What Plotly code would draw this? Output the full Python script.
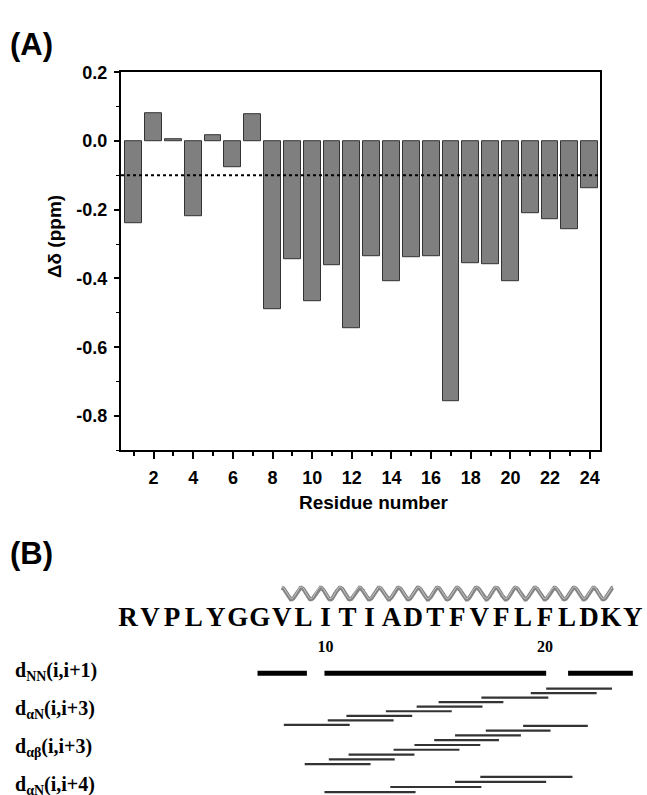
import math
import plotly.graph_objects as go

# ---------------- data ----------------
residues = list(range(1, 25))
delta_ppm = [-0.24, 0.08, 0.005, -0.22, 0.018, -0.075, 0.078, -0.49,
             -0.345, -0.465, -0.362, -0.544, -0.335, -0.409, -0.337, -0.335,
             -0.758, -0.355, -0.358, -0.409, -0.209, -0.229, -0.258, -0.137]
threshold_ppm = -0.1

xtick_vals = list(range(2, 25, 2))
ytick_vals = [0.2, 0.0, -0.2, -0.4, -0.6, -0.8]
ytick_text = ["0.2", "0.0", "-0.2", "-0.4", "-0.6", "-0.8"]

sequence = list("RVPLYGGVLITIADTFVFLFLDKY")
seq_numbers = [10, 20]

helix_start, helix_end, helix_waves = 8.0, 23.1, 17

# NOE connectivities (residue start / end), listed from bottom row to top row
dNN_start = [6.9, 9.95, 21.05]
dNN_end = [9.15, 20.05, 24.0]
daN3_start = [8.1, 10.1, 10.95, 12.75, 14.15, 15.15, 17.1, 19.35, 20.05]
daN3_end = [11.1, 13.1, 13.95, 15.75, 17.15, 18.1, 20.15, 22.35, 23.05]
dab3_start = [9.05, 10.15, 11.05, 13.1, 14.05, 14.95, 15.9, 17.3, 19.0]
dab3_end = [12.05, 13.15, 14.05, 16.1, 17.05, 17.9, 18.9, 20.25, 21.95]
daN4_start = [9.95, 12.95, 15.9, 17.05]
daN4_end = [14.1, 17.1, 20.05, 21.25]

noe_labels = ["d<sub>NN</sub>(i,i+1)", "d<sub>αN</sub>(i,i+3)",
              "d<sub>αβ</sub>(i,i+3)", "d<sub>αN</sub>(i,i+4)"]

# ---------------- layout helpers ----------------
W, H = 647, 795
def px(x):
    return x / W
def py(y):
    return 1 - y / H

SANS = "Liberation Sans, Arial, sans-serif"
SERIF = "Liberation Serif, Times New Roman, serif"

fig = go.Figure()

# Panel A bars
fig.add_trace(go.Bar(
    x=residues, y=delta_ppm, width=0.85,
    marker=dict(color="#7f7f7f", line=dict(color="#333333", width=1)),
    xaxis="x", yaxis="y", showlegend=False))

# Panel B: segments
def seg_trace(starts, ends, y_bottom, step, width, color):
    xs, ys = [], []
    for k, (s, e) in enumerate(zip(starts, ends)):
        yy = y_bottom - k * step
        xs += [s, e, None]
        ys += [yy, yy, None]
    return go.Scatter(x=xs, y=ys, mode="lines", line=dict(color=color, width=width),
                      xaxis="x2", yaxis="y2", showlegend=False, hoverinfo="skip")

fig.add_trace(seg_trace(dNN_start, dNN_end, 671.7, 0, 5, "#000000"))
fig.add_trace(seg_trace(daN3_start, daN3_end, 724.0, 4.6, 2.2, "#333333"))
fig.add_trace(seg_trace(dab3_start, dab3_end, 763.7, 4.84, 2.2, "#333333"))
fig.add_trace(seg_trace(daN4_start, daN4_end, 792.0, 5.1, 2.2, "#333333"))

# helix glyph
n_pts = 400
hx = [helix_start + (helix_end - helix_start) * i / n_pts for i in range(n_pts + 1)]
period = (helix_end - helix_start) / helix_waves
hy = [591 - 6 * math.cos(2 * math.pi * (v - helix_start) / period) for v in hx]
fig.add_trace(go.Scatter(x=hx, y=hy, mode="lines", line=dict(color="#858585", width=4),
                         xaxis="x2", yaxis="y2", showlegend=False, hoverinfo="skip"))
fig.add_trace(go.Scatter(x=hx, y=[v - 0.8 for v in hy], mode="lines",
                         line=dict(color="#c4c4c4", width=1),
                         xaxis="x2", yaxis="y2", showlegend=False, hoverinfo="skip"))

# sequence letters
fig.add_trace(go.Scatter(
    x=residues, y=[617] * len(residues), mode="text", text=sequence,
    textfont=dict(family=SERIF, size=27, color="black", weight="bold"),
    xaxis="x2", yaxis="y2", showlegend=False, hoverinfo="skip"))
fig.add_trace(go.Scatter(
    x=seq_numbers, y=[646] * len(seq_numbers), mode="text",
    text=[str(n) for n in seq_numbers],
    textfont=dict(family=SERIF, size=16, color="black", weight="bold"),
    xaxis="x2", yaxis="y2", showlegend=False, hoverinfo="skip"))

axis_font = dict(family=SANS, size=18, color="black", weight="bold")

# residue -> px mapping in panel B: res1 at 128px, 21.95 px per residue
b_res0_px, b_step = 128.0, 21.95
x2_range = [1 + (0 - b_res0_px) / b_step, 1 + (W - b_res0_px) / b_step]

fig.update_layout(
    width=W, height=H,
    margin=dict(l=0, r=0, t=0, b=0),
    paper_bgcolor="white", plot_bgcolor="white",
    bargap=0,
    xaxis=dict(domain=[px(121), px(600)], range=[0.356, 24.52], anchor="y",
               tickvals=xtick_vals, ticks="outside", ticklen=7, tickwidth=2,
               tickcolor="black", showline=True, linewidth=2, linecolor="black",
               mirror=True, showgrid=False, zeroline=False, tickfont=axis_font,
               ticklabelstandoff=3,
               minor=dict(dtick=1, tick0=1, ticks="outside", ticklen=4,
                          tickwidth=2, tickcolor="black", showgrid=False)),
    yaxis=dict(domain=[py(446), py(63)], range=[-0.9, 0.2], anchor="x",
               tickvals=ytick_vals, ticktext=ytick_text, ticks="outside",
               ticklen=5, tickwidth=2, tickcolor="black", showline=True,
               linewidth=2, linecolor="black", mirror=True, showgrid=False,
               zeroline=False, tickfont=axis_font, ticklabelstandoff=3,
               minor=dict(dtick=0.1, ticks="outside", ticklen=3, tickwidth=1,
                          tickcolor="black", showgrid=False)),
    xaxis2=dict(domain=[0, 1], range=x2_range, anchor="y2", visible=False,
                fixedrange=True),
    yaxis2=dict(domain=[0, py(556.5)], range=[795, 556.5], anchor="x2",
                visible=False, fixedrange=True),
)

# threshold dotted line
fig.add_shape(type="line", xref="x domain", yref="y", x0=0, x1=1,
              y0=threshold_ppm, y1=threshold_ppm, layer="above",
              line=dict(color="black", width=2, dash="dot"))

ann = []
ann.append(dict(text="<b>(A)</b>", x=px(8), y=py(35), xref="paper", yref="paper",
                xanchor="left", yanchor="middle", showarrow=False,
                font=dict(family=SANS, size=31, color="black")))
ann.append(dict(text="<b>(B)</b>", x=px(8), y=py(550), xref="paper", yref="paper",
                xanchor="left", yanchor="middle", showarrow=False,
                font=dict(family=SANS, size=31, color="black")))
ann.append(dict(text="<b>Residue number</b>", x=px(374), y=py(499), xref="paper",
                yref="paper", xanchor="center", yanchor="middle", showarrow=False,
                font=dict(family=SANS, size=19, color="black")))
ann.append(dict(text="<b>Δδ (ppm)</b>", x=px(54), y=py(230), xref="paper",
                yref="paper", xanchor="center", yanchor="middle", showarrow=False,
                textangle=-90, font=dict(family=SANS, size=19, color="black")))
for lab, yy in zip(noe_labels, [670, 708, 747, 785]):
    ann.append(dict(text="<b>" + lab + "</b>", x=px(13), y=py(yy), xref="paper",
                    yref="paper", xanchor="left", yanchor="middle", showarrow=False,
                    font=dict(family=SERIF, size=20, color="black")))
fig.update_layout(annotations=ann)

fig.write_html("out.html")
